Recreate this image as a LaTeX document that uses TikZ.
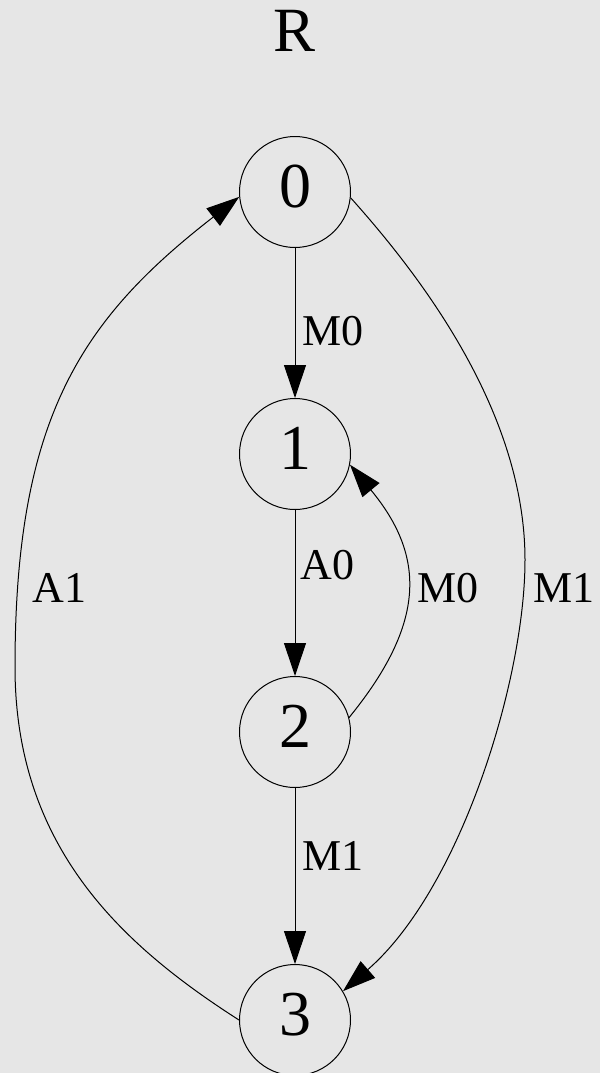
\documentclass[tikz,border=0pt]{standalone}
\usepackage{fontspec}
\setmainfont{Liberation Serif}
\usetikzlibrary{arrows.meta}
\definecolor{bgrey}{RGB}{230,230,230}
\begin{document}
\begin{tikzpicture}[x=1pt, y=-1pt, line join=round, line cap=round, line width=1pt,
  >={Triangle[length=33pt,width=22pt]},
  state/.style={circle, draw, minimum size=111pt, inner sep=0pt, text depth=11pt,
    font=\fontsize{64}{64}\selectfont},
  lbl/.style={anchor=base west, inner sep=0pt, font=\fontsize{44}{44}\selectfont}]
\def\xc{295}
\fill[bgrey] (0,0) rectangle (600,1073);
\useasboundingbox (0,0) rectangle (600,1073);
\node[anchor=base, inner sep=0pt, font=\fontsize{63}{63}\selectfont] (title) at (\xc,52) {R};
\node[state] (s0) at (\xc,192) {0};
\node[state] (s1) at (\xc,454) {1};
\node[state] (s2) at (\xc,732) {2};
\node[state] (s3) at (\xc,1020) {3};
\draw[->] (s0) -- (s1);
\draw[->] (s1) -- (s2);
\draw[->] (s2) -- (s3);
\draw[->] (s2.15) .. controls (426.5,622.6) and (425.5,556) .. (s1.-11);
\draw[->] (s0.-6) .. controls (418,273) and (525,410) .. (525,560)
  .. controls (525,680) and (460.5,889) .. (s3.31);
\draw[->] (s3.180) .. controls (121.8,945) and (15,847) .. (15,667)
  .. controls (15,417) and (82,319) .. (s0.185);
\node[lbl] (l01) at (302,345) {M0};
\node[lbl] (l12) at (300,579) {A0};
\node[lbl] (l21) at (417,602) {M0};
\node[lbl] (l03) at (533,602) {M1};
\node[lbl] (l30) at (32,602) {A1};
\node[lbl] (l23) at (302,870) {M1};
\end{tikzpicture}
\end{document}
